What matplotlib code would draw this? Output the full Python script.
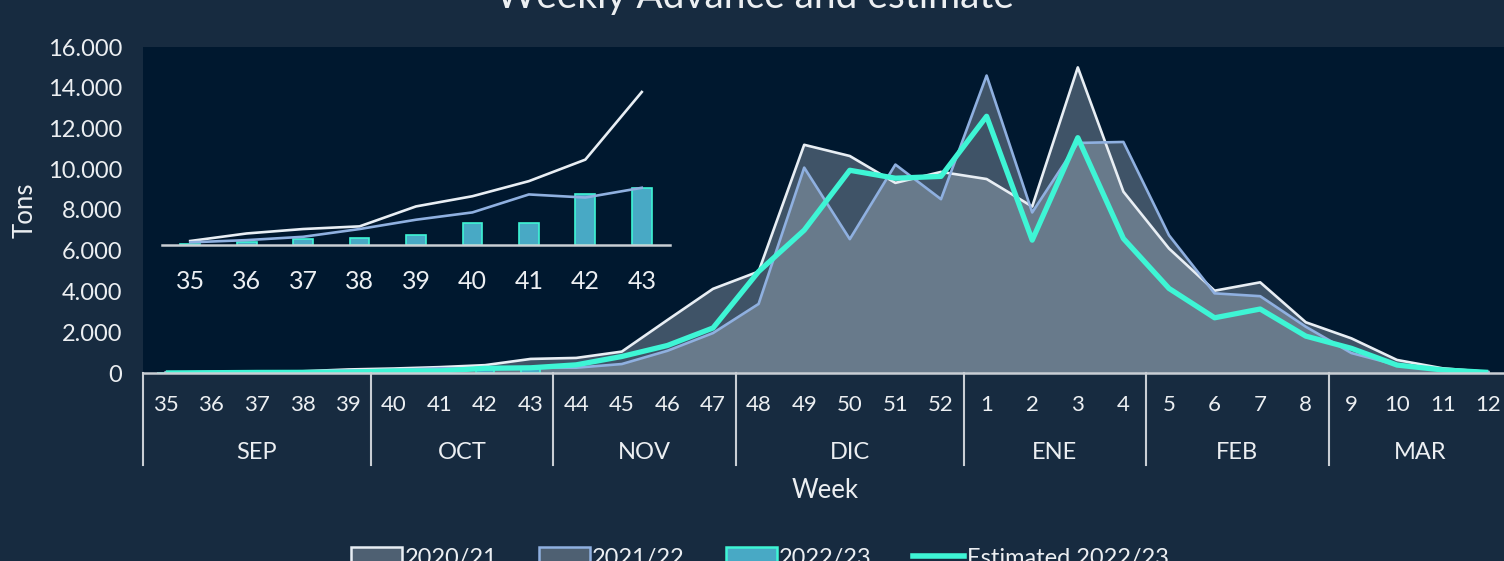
import matplotlib
import matplotlib.pyplot as plt
from matplotlib.patches import Patch
from matplotlib.lines import Line2D
import matplotlib.transforms as mtransforms

matplotlib.use("agg")

weeks = [str(w) for w in list(range(35, 53)) + list(range(1, 13))]
months = ["SEP", "OCT", "NOV", "DIC", "ENE", "FEB", "MAR"]
month_sizes = [5, 4, 4, 5, 4, 4, 4]

season_2021 = [18, 52, 72, 84, 174, 220, 288, 385, 690, 740, 1050, 2600, 4130, 4980,
               11200, 10650, 9330, 9870, 9520, 8170, 15000, 8900, 6110, 4040, 4450,
               2490, 1700, 640, 230, 50]
season_2122 = [12, 22, 37, 72, 114, 147, 228, 214, 258, 260, 440, 1090, 1960, 3390,
               10080, 6570, 10230, 8530, 14600, 7880, 11290, 11340, 6760, 3910, 3770,
               2270, 980, 390, 150, 30]
actual_2223 = [4, 14, 28, 32, 45, 99, 100, 231, 255]
estimated_2223 = [4, 14, 28, 32, 45, 99, 100, 231, 255, 400, 810, 1350, 2210, 4980,
                  7010, 9950, 9560, 9650, 12600, 6520, 11550, 6600, 4150, 2710, 3140,
                  1810, 1210, 390, 150, 30]

yticks = list(range(0, 16001, 2000))

FIG_BG = "#172b40"
PLOT_BG = "#00182f"
TXT = "#eceff2"
AXIS = "#c9ced4"
WHITE = "#e8eef4"
BLUE = "#8fb0e0"
GREEN = "#3ef5d5"
BAR = "#48a9c5"
AREA = (0.71, 0.77, 0.82, 0.35)

plt.rcParams["font.family"] = ["Lato", "DejaVu Sans"]

W, H = 1504, 561
fig = plt.figure(figsize=(W / 100, H / 100), dpi=100, facecolor=FIG_BG)


def px_axes(left, top, right, bottom):
    return [left / W, 1 - bottom / H, (right - left) / W, (bottom - top) / H]


ax = fig.add_axes(px_axes(143, 47, 1511, 373))
ax.set_facecolor(PLOT_BG)
x = list(range(len(weeks)))

ax.fill_between(x, season_2021, color=AREA, lw=0)
ax.fill_between(x, season_2122, color=AREA, lw=0)
ax.plot(x, season_2021, color=WHITE, lw=1.9)
ax.plot(x, season_2122, color=BLUE, lw=1.9)
ax.bar(x[:len(actual_2223)], actual_2223, width=0.4, color=BAR, edgecolor=GREEN, lw=1.2)
ax.plot(x, estimated_2223, color=GREEN, lw=3.8, solid_capstyle="butt")

ax.set_xlim(-0.5, len(weeks) - 0.5)
ax.set_ylim(0, 16000)
ax.set_yticks(yticks)
ax.set_yticklabels([f"{v:,}".replace(",", ".") for v in yticks])
ax.set_xticks(x)
ax.set_xticklabels(weeks)
ax.tick_params(axis="both", length=0, colors=TXT)
ax.tick_params(axis="y", pad=15, labelsize=17)
ax.tick_params(axis="x", pad=16, labelsize=16)
for s in ["top", "right", "left"]:
    ax.spines[s].set_visible(False)
ax.spines["bottom"].set_color(AXIS)
ax.spines["bottom"].set_linewidth(1.8)

ax.set_ylabel("Tons", color=TXT, fontsize=18.5, labelpad=7)

# month groups under week labels
trans = mtransforms.blended_transform_factory(ax.transData, ax.transAxes)
start = -0.5
bounds = [start]
for m, n in zip(months, month_sizes):
    ax.text(start + n / 2, -0.245, m, transform=trans, ha="center", va="center",
            color=TXT, fontsize=17)
    start += n
    bounds.append(start)
for b in bounds[:-1]:
    ax.plot([b, b], [0, -0.282], transform=trans, color=AXIS, lw=1.5, clip_on=False)

ax.text(0.499, -0.36, "Week", transform=ax.transAxes, ha="center", va="center",
        color=TXT, fontsize=18.5)

fig.text(755 / W, 1 - 8 / H, "Weekly Advance and estimate", ha="center",
         va="baseline", color=TXT, fontsize=28)

# inset zoom of the first weeks
n_in = len(actual_2223)
ax_in = fig.add_axes(px_axes(162, 85, 670, 245))
ax_in.set_facecolor("none")
xi = list(range(n_in))
ax_in.plot(xi, season_2021[:n_in], color=WHITE, lw=1.9)
ax_in.plot(xi, season_2122[:n_in], color=BLUE, lw=1.9)
ax_in.bar(xi, actual_2223, width=0.35, color=BAR, edgecolor=GREEN, lw=1.2)
ax_in.set_xlim(-0.5, n_in - 0.5)
ax_in.set_ylim(0, max(season_2021[:n_in]) * 160 / 153)
ax_in.set_yticks([])
ax_in.set_xticks(xi)
ax_in.set_xticklabels(weeks[:n_in])
ax_in.tick_params(axis="x", length=0, colors=TXT, labelsize=18, pad=18)
for s in ["top", "right", "left"]:
    ax_in.spines[s].set_visible(False)
ax_in.spines["bottom"].set_color(AXIS)
ax_in.spines["bottom"].set_linewidth(1.8)

handles = [
    Patch(facecolor=AREA, edgecolor=WHITE, lw=1.8, label="2020/21"),
    Patch(facecolor=AREA, edgecolor=BLUE, lw=1.8, label="2021/22"),
    Patch(facecolor=BAR, edgecolor=GREEN, lw=1.8, label="2022/23"),
    Line2D([], [], color=GREEN, lw=4, label="Estimated 2022/23"),
]
fig.legend(handles=handles, loc="center", bbox_to_anchor=(760 / W, 1 - 558 / H),
           ncol=4, frameon=False, fontsize=17, labelcolor=TXT, handlelength=2.16,
           handleheight=0.8, handletextpad=0.1, columnspacing=1.75)

fig.savefig("out.png", dpi=100, facecolor=FIG_BG)
plt.close(fig)
